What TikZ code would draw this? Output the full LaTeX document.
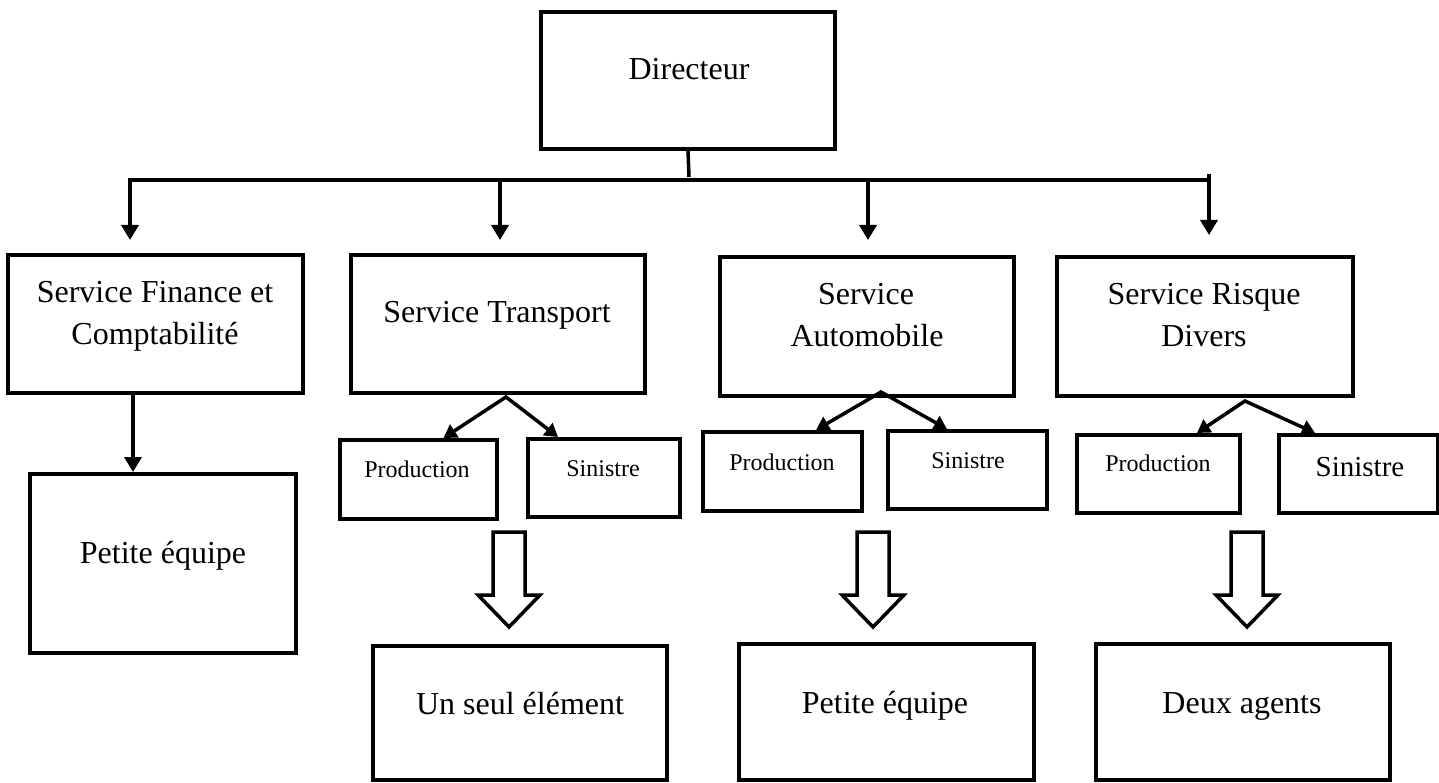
\documentclass[tikz,border=0pt]{standalone}
\usepackage{fontspec}
\setmainfont{Liberation Serif}
\usetikzlibrary{arrows.meta}
\begin{document}
\begin{tikzpicture}[x=1pt,y=-1pt,
  box/.style={draw, line width=4pt, rectangle, inner sep=0pt},
  big/.style={font=\fontsize{32pt}{38pt}\selectfont, anchor=base, inner sep=0pt},
  small/.style={font=\fontsize{24pt}{29pt}\selectfont, anchor=base, inner sep=0pt},
  mid/.style={font=\fontsize{29pt}{34pt}\selectfont, anchor=base, inner sep=0pt},
  wire/.style={line width=3.5pt},
  arr/.style={line width=3.5pt, -{Triangle[width=17pt,length=15pt]}},
  split/.style={line width=3.5pt, line join=miter, {Triangle[width=15pt,length=13pt]}-{Triangle[width=15pt,length=13pt]}},
  blk/.style={line width=3.5pt, line join=miter}
]
\useasboundingbox (0,0) rectangle (1439,783);

% Directeur
\node[box, minimum width=294pt, minimum height=137pt] (dir) at (688,80.5) {};
\node[big] (dirT) at (689,80) {Directeur};

% bus
\coordinate (stem) at (689,177);
\coordinate (bL) at (130,180);
\coordinate (b2) at (500,180);
\coordinate (b3) at (868,180);
\coordinate (bR) at (1209,180);
\coordinate (bT) at (1209,174);
\coordinate (t1) at (130,240);
\coordinate (t2) at (500,240);
\coordinate (t3) at (868,240);
\coordinate (t4) at (1209,235);
\draw[wire] (dir.south) -- (stem);
\draw[wire] (bL) -- (bR);
\draw[arr] (b2) -- (bL) -- (t1);
\draw[arr] (b2) -- (t2);
\draw[arr] (b3) -- (t3);
\draw[arr] (bT) -- (t4);

% service boxes
\node[box, minimum width=295pt, minimum height=138pt] (fin) at (155.5,324) {};
\node[box, minimum width=294pt, minimum height=138pt] (tra) at (498,324) {};
\node[box, minimum width=294pt, minimum height=139pt] (aut) at (867,326.5) {};
\node[box, minimum width=296pt, minimum height=139pt] (ris) at (1205,326.5) {};
\node[big] (finT1) at (155,303) {Service Finance et};
\node[big] (finT2) at (155,344) {Comptabilité};
\node[big] (traT) at (497,323) {Service Transport};
\node[big] (autT1) at (866,305) {Service};
\node[big] (autT2) at (867,346) {Automobile};
\node[big] (risT1) at (1204,305) {Service Risque};
\node[big] (risT2) at (1204,346) {Divers};

% finance team
\node[box, minimum width=266pt, minimum height=179pt] (pe1) at (163,563.5) {};
\node[big] (pe1T) at (163,563) {Petite équipe};
\draw[arr] ([xshift=-22.5pt]fin.south) -- ([xshift=-30pt]pe1.north);

% sub boxes
\node[box, minimum width=157pt, minimum height=79pt] (p1) at (418.5,479.5) {};
\node[box, minimum width=152pt, minimum height=78pt] (s1) at (604,478) {};
\node[box, minimum width=159pt, minimum height=79pt] (p2) at (782.5,471.5) {};
\node[box, minimum width=159pt, minimum height=78pt] (s2) at (967.5,470) {};
\node[box, minimum width=163pt, minimum height=78pt] (p3) at (1158.5,474) {};
\node[box, minimum width=159pt, minimum height=78pt] (s3) at (1358.5,474) {};
\node[small] (p1T) at (417,477) {Production};
\node[small] (s1T) at (603,476) {Sinistre};
\node[small] (p2T) at (782,470) {Production};
\node[small] (s2T) at (968,468) {Sinistre};
\node[small] (p3T) at (1158,471) {Production};
\node[mid] (s3T) at (1360,476) {Sinistre};

% split arrows
\coordinate (ta) at (506,397);
\coordinate (aa) at (881,392);
\coordinate (ra) at (1245,401);
\draw[split] ([xshift=25pt]p1.north) -- (ta) -- ([xshift=-46pt]s1.north);
\draw[split] ([xshift=33.5pt]p2.north) -- (aa) -- ([xshift=-20.5pt]s2.north);
\draw[split] ([xshift=38.5pt]p3.north) -- (ra) -- ([xshift=-43.5pt]s3.north);

% block arrows
\coordinate (ba1) at (509,532);
\coordinate (ba2) at (873,532);
\coordinate (ba3) at (1247,532);
\foreach \c in {ba1,ba2,ba3}{
  \draw[blk, shift={(\c)}] (-16,0) -- (-16,63) -- (-31,63) -- (0,95) -- (31,63) -- (16,63) -- (16,0) -- cycle;
}

% bottom boxes
\node[box, minimum width=294pt, minimum height=134pt] (un) at (520,713) {};
\node[box, minimum width=295pt, minimum height=136pt] (pe2) at (886.5,712) {};
\node[box, minimum width=294pt, minimum height=136pt] (deux) at (1243,712) {};
\node[big] (unT) at (520,714) {Un seul élément};
\node[big] (pe2T) at (885,713) {Petite équipe};
\node[big] (deuxT) at (1242,713) {Deux agents};
\end{tikzpicture}
\end{document}
